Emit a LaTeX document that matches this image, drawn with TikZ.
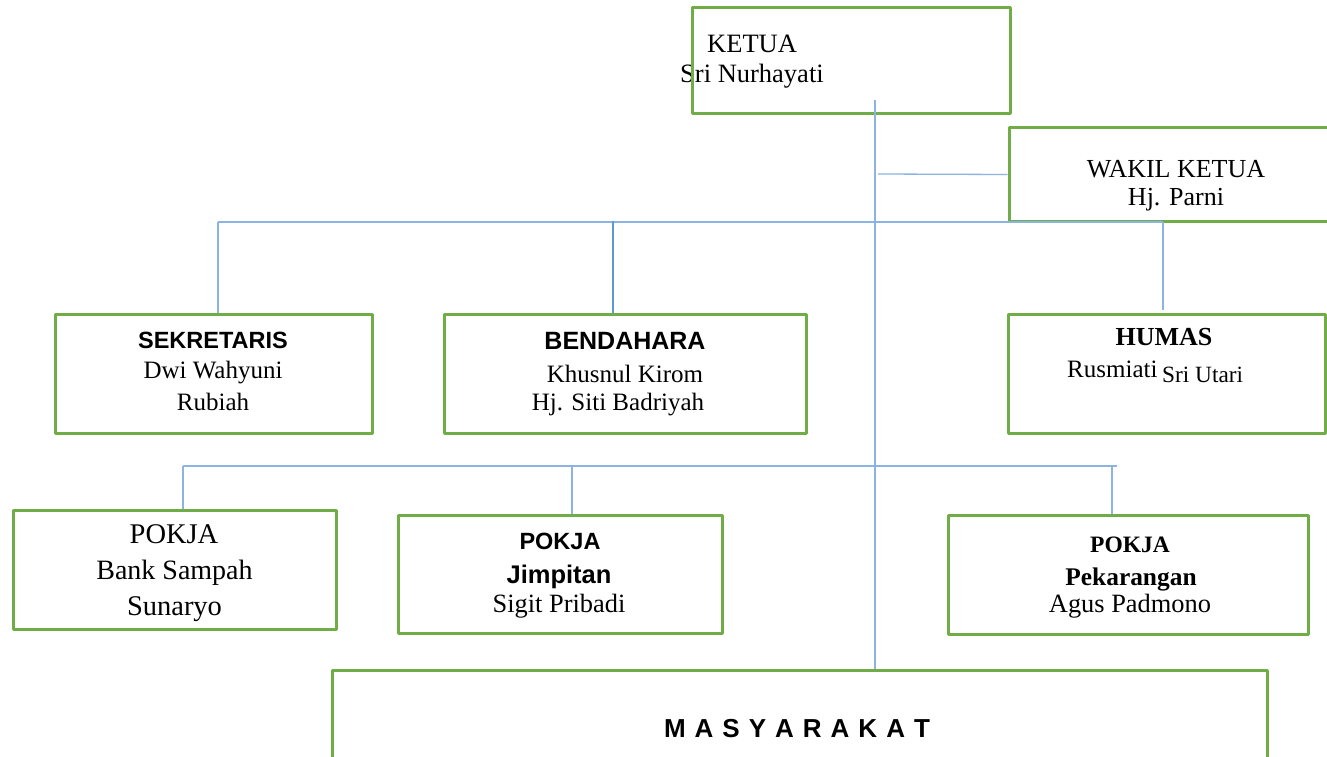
\documentclass[tikz,border=0pt]{standalone}
\usepackage{fontspec}
\setmainfont{Liberation Serif}
\newfontfamily\arialf{Liberation Sans}
\definecolor{boxgreen}{HTML}{70AD47}
\definecolor{connblue}{HTML}{8DB3E2}
\definecolor{connbluedark}{HTML}{5B9BD5}
\newcommand\mgap{\hspace{9pt}}
\tikzset{
  box/.style={draw=boxgreen, line width=3pt, line join=round, line cap=round, inner sep=0pt, rectangle},
  conn/.style={draw=connblue, line width=1.3pt},
  connthick/.style={draw=connbluedark, line width=2.6pt},
  tx/.style={anchor=base, inner sep=0pt},
  txw/.style={anchor=base west, inner sep=0pt},
  serif/.style={font=\fontsize{#1}{#1}\selectfont},
  serifb/.style={font=\bfseries\fontsize{#1}{#1}\selectfont},
  sansb/.style={font=\arialf\bfseries\fontsize{#1}{#1}\selectfont}
}
\begin{document}
\begin{tikzpicture}[x=1pt,y=-1pt]
\useasboundingbox (0,0) rectangle (1327,757);
\clip (0,0) rectangle (1327,757);
\fill[white] (0,0) rectangle (1327,757);

% texts of KETUA (drawn under the box border)
\node[txw, serif=26.5] (t-ketua1) at (707,53) {KETUA};
\node[txw, serif=26.5] (t-ketua2) at (680,83) {Sri Nurhayati};

% boxes
\node[box, minimum width=318pt, minimum height=106pt] (ketua) at (851,61) {};
\node[box, minimum width=331pt, minimum height=93pt] (wakil) at (1174.5,174.5) {};
\node[box, minimum width=317pt, minimum height=119pt] (sek) at (213.5,373.5) {};
\node[box, minimum width=362pt, minimum height=119pt] (ben) at (625,373.5) {};
\node[box, minimum width=317pt, minimum height=119pt] (hum) at (1166.5,373.5) {};
\node[box, minimum width=323pt, minimum height=119pt] (pk1) at (174.5,569.5) {};
\node[box, minimum width=324pt, minimum height=118pt] (pk2) at (560,574) {};
\node[box, minimum width=360pt, minimum height=119pt] (pk3) at (1128,574.5) {};
\node[box, minimum width=935pt, minimum height=100pt] (mas) at (799.5,720) {};

% connectors
\coordinate (kt) at (875,100);
\draw[conn] (kt) -- (kt |- mas.north);
\coordinate (wk) at (878,174);
\draw[conn] (wk) -- (wakil.west);
\coordinate (b1L) at (218,222);
\coordinate (b1M) at (613,221);
\coordinate (b1R) at (1163,222);
\coordinate (h1) at (1163,310);
\draw[conn] (b1L) -- (b1R);
\draw[conn] (b1L) -- (b1L |- sek.north);
\draw[connthick] (b1M) -- (b1M |- ben.north);
\draw[conn] (b1R) -- (h1);
\coordinate (b2L) at (183,466);
\coordinate (b2M) at (572,466);
\coordinate (b2R) at (1112,466);
\coordinate (b2E) at (1117,466);
\draw[conn] (b2L) -- (b2E);
\draw[conn] (b2L) -- (b2L |- pk1.north);
\draw[conn] (b2M) -- (b2M |- pk2.north);
\draw[conn] (b2R) -- (b2R |- pk3.north);

% texts
\node[tx, serif=26] (t-wakil1) at (1176,177) {WAKIL KETUA};
\node[tx, serif=26] (t-wakil2) at (1176,205) {Hj. Parni};

\node[tx, sansb=23.5] (t-sek1) at (213,348) {SEKRETARIS};
\node[tx, serif=25] (t-sek2) at (213,378) {Dwi Wahyuni};
\node[tx, serif=25] (t-sek3) at (213,410) {Rubiah};

\node[tx, sansb=25] (t-ben1) at (625,349) {BENDAHARA};
\node[tx, serif=25] (t-ben2) at (625,382) {Khusnul Kirom};
\node[tx, serif=25] (t-ben3) at (618,410) {Hj. Siti Badriyah};

\node[tx, serifb=26] (t-hum1) at (1164,345) {HUMAS};
\node[txw, serif=25] (t-hum2) at (1067,377) {Rusmiati};
\node[txw, serif=23.3] (t-hum3) at (1162,382) {Sri Utari};

\node[tx, serif=28.5] (t-pk11) at (174,543) {POKJA};
\node[tx, serif=28] (t-pk12) at (174.5,579) {Bank Sampah};
\node[tx, serif=28.5] (t-pk13) at (174.5,615) {Sunaryo};

\node[tx, sansb=23.5] (t-pk21) at (560,549) {POKJA};
\node[tx, sansb=25.5] (t-pk22) at (559,583) {Jimpitan};
\node[tx, serif=26.4] (t-pk23) at (559,612) {Sigit Pribadi};

\node[tx, serifb=23.5] (t-pk31) at (1130,552) {POKJA};
\node[tx, serifb=25.4] (t-pk32) at (1131,585) {Pekarangan};
\node[tx, serif=26.4] (t-pk33) at (1130,612) {Agus Padmono};

\node[tx, sansb=26] (t-mas) at (797,737) {M\mgap A\mgap S\mgap Y\mgap A\mgap R\mgap A\mgap K\mgap A\mgap T};
\end{tikzpicture}
\end{document}
